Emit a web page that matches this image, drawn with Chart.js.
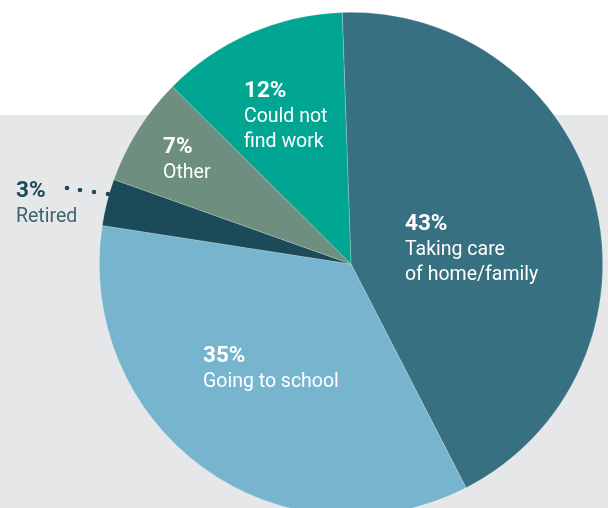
<!DOCTYPE html>
<html>
<head>
<meta charset="utf-8">
<script src="https://cdn.jsdelivr.net/npm/chart.js@4.4.0/dist/chart.umd.min.js"></script>
<style>
  html, body { margin: 0; padding: 0; background: #ffffff; overflow: hidden; width: 608px; height: 508px; }
  #wrap { position: absolute; left: 0; top: 0; width: 608px; height: 528px; }
</style>
</head>
<body>
<div id="wrap"><canvas id="c" width="608" height="528"></canvas></div>
<script>
// ---- data ----
const categories = ["Taking care of home/family", "Going to school", "Retired", "Other", "Could not find work"];
const values = [43, 35, 3, 7, 12];
const percentLabels = ["43%", "35%", "3%", "7%", "12%"];
const textLines = [
  ["Taking care", "of home/family"],
  ["Going to school"],
  ["Retired"],
  ["Other"],
  ["Could not", "find work"]
];

// ---- styling ----
const sliceColors = ["#367081", "#77b5cf", "#1b4a59", "#6e8f7f", "#00a692"];
// label anchor offsets from pie centre (px)
const labelOffsets = [[54, -34], [-148, 98], [-335, -67], [-188, -111], [-107, -167]];
const labelOutside = [false, false, true, false, false];
const leaderDots = [[-284, -76], [-271, -74], [-257, -72], [-243, -70]];

const bgPlugin = {
  id: 'bg',
  beforeDraw(chart) {
    const ctx = chart.ctx;
    ctx.save();
    ctx.fillStyle = '#ffffff';
    ctx.fillRect(0, 0, chart.width, chart.height);
    ctx.fillStyle = '#e6e7e8';
    ctx.fillRect(0, 115, chart.width, chart.height - 115);
    ctx.restore();
  }
};

const labelPlugin = {
  id: 'labels',
  afterDatasetsDraw(chart) {
    const ctx = chart.ctx;
    const meta = chart.getDatasetMeta(0);
    const cx = meta.data[0].x, cy = meta.data[0].y;
    ctx.save();
    ctx.textAlign = 'left';
    ctx.textBaseline = 'alphabetic';
    meta.data.forEach((arc, i) => {
      const x = cx + labelOffsets[i][0];
      const y = cy + labelOffsets[i][1];
      ctx.font = 'bold 22.5px Roboto';
      ctx.fillStyle = labelOutside[i] ? '#1b4a59' : '#ffffff';
      ctx.fillText(percentLabels[i], x, y);
      ctx.font = '19.5px Roboto';
      ctx.fillStyle = labelOutside[i] ? '#3f6371' : '#ffffff';
      textLines[i].forEach((t, j) => ctx.fillText(t, x, y + 25 * (j + 1)));
    });
    ctx.fillStyle = '#1b4a59';
    leaderDots.forEach(d => {
      ctx.beginPath();
      ctx.arc(cx + d[0], cy + d[1], 2.3, 0, Math.PI * 2);
      ctx.fill();
    });
    ctx.restore();
  }
};

new Chart(document.getElementById('c'), {
  type: 'pie',
  data: {
    labels: categories,
    datasets: [{
      data: values,
      backgroundColor: sliceColors,
      borderColor: 'rgba(255,255,255,0.35)',
      borderWidth: 0.6
    }]
  },
  options: {
    responsive: false,
    animation: false,
    rotation: -2,
    layout: { padding: { top: 12, bottom: 12, left: 94, right: 0 } },
    plugins: { legend: { display: false }, tooltip: { enabled: false } }
  },
  plugins: [bgPlugin, labelPlugin]
});
</script>
</body>
</html>
